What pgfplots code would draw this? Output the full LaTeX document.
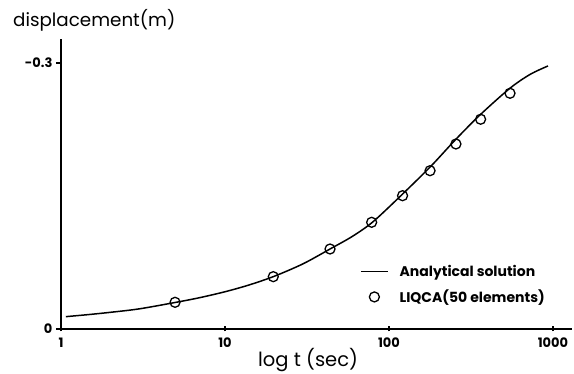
\documentclass[border=0pt]{standalone}
\usepackage{pgfplots}
\pgfplotsset{compat=1.18}
\usepackage{fontspec}
\setmainfont{Poppins}
\pgfplotsset{
  linelegend/.style={legend image code/.code={\draw[##1] (0pt,0pt) -- (27pt,0pt);}},
  marklegend/.style={legend image code/.code={\draw[mark repeat=2,mark phase=2,##1] plot coordinates {(0pt,0pt) (13.5pt,0pt) (27pt,0pt)};}},
}
\begin{document}
\begin{tikzpicture}[x=1pt,y=1pt]
\useasboundingbox (-61,-45) rectangle (513,329);
\begin{axis}[
  at={(0pt,0pt)}, anchor=south west,
  scale only axis, width=511pt, height=290pt,
  xmode=log, log basis x=10, xmin=1, xmax=1306,
  ymin=0, ymax=0.327,
  axis x line=bottom, axis y line=left,
  axis line style={-, line width=1.3pt},
  xtick={1,10,100,1000}, xticklabels={1,10,100,1000},
  xminorticks=false,
  ytick={0,0.3}, yticklabels={0,-0.3},
  tick style={line width=1.2pt, black},
  major tick length=5pt,
  xtick align=center, ytick align=outside,
  ticklabel style={font=\bfseries\fontsize{13}{13}\selectfont},
  xticklabel style={yshift=-3pt},
  legend style={draw=none, fill=none, at={(axis description cs:0.585,0.228)}, anchor=north west,
    font=\bfseries\fontsize{14}{14}\selectfont, row sep=8pt, inner sep=0pt,
    /tikz/every odd column/.append style={column sep=9pt}},
  legend cell align=left,
]
\addplot[black, line width=1.5pt, smooth, tension=0.5, linelegend] coordinates {
  (1.07,0.0139) (1.5,0.0164) (2,0.0188) (3,0.0227) (5,0.0300) (7,0.0353)
  (10,0.0420) (14,0.0496) (20,0.0595) (30,0.0736) (44,0.0905) (60,0.1046)
  (80,0.1210) (120,0.1515) (180,0.1835) (256,0.2140) (362,0.2420)
  (547,0.2715) (724,0.2870) (932,0.2966)
};
\addlegendentry{Analytical solution}
\addplot[only marks, mark=o, mark size=5pt, black, line width=1.3pt, marklegend] coordinates {
  (4.96,0.0301) (19.7,0.0590) (43.7,0.0902) (78.4,0.1203) (121,0.1503)
  (178,0.1785) (256,0.2086) (362,0.2365) (547,0.2658)
};
\addlegendentry{LIQCA(50 elements)}
\end{axis}
\node[anchor=base west, inner sep=0pt, font=\fontsize{18.3}{18.3}\selectfont] at (-48,302) {displacement(m)};
\node[anchor=base west, inner sep=0pt, font=\fontsize{19.5}{19.5}\selectfont] at (197,-38) {log t (sec)};
\end{tikzpicture}
\end{document}
